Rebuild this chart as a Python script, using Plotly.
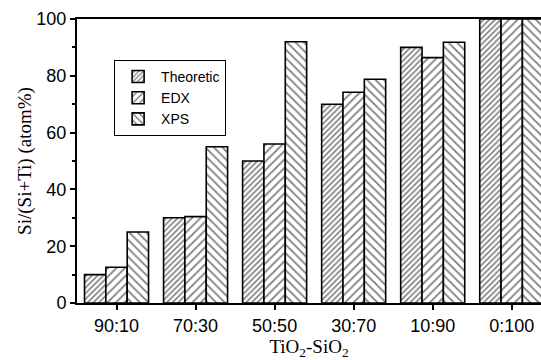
import plotly.graph_objects as go

categories = ["90:10", "70:30", "50:50", "30:70", "10:90", "0:100"]
theoretic = [10, 30, 50, 70, 90, 100]
edx = [12.6, 30.4, 56, 74.2, 86.4, 100]
xps = [25, 55, 92, 78.8, 91.8, 100]
y_ticks = [0, 20, 40, 60, 80, 100]

series = [
    ("Theoretic", theoretic, "/", 4, 0.4),
    ("EDX", edx, "/", 6, 0.3),
    ("XPS", xps, "\\", 6, 0.3),
]

fig = go.Figure()
for name, vals, shape, size, sol in series:
    fig.add_trace(go.Bar(
        name=name, x=categories, y=vals,
        marker=dict(
            color="white",
            line=dict(color="black", width=1.6),
            pattern=dict(shape=shape, size=size, solidity=sol,
                         fgcolor="black", bgcolor="white", fillmode="overlay"),
        ),
    ))

fig.update_layout(
    width=541, height=360,
    margin=dict(l=77, r=0, t=19, b=57),
    plot_bgcolor="white", paper_bgcolor="white",
    barmode="group", bargap=0.19, bargroupgap=0,
    font=dict(family="Liberation Sans, Arial", size=18, color="black"),
    showlegend=True,
    legend=dict(
        x=0.08, y=0.856, xanchor="left", yanchor="top",
        bordercolor="black", borderwidth=1, bgcolor="white",
        font=dict(size=14, family="Liberation Sans, Arial"),
        tracegroupgap=0, itemwidth=36,
    ),
    xaxis=dict(
        range=[-0.5, 5.37], automargin=False,
        showline=True, linecolor="black", linewidth=2, mirror=True,
        ticks="outside", ticklen=5, tickwidth=2, tickcolor="black",
        showgrid=False,
        title=dict(text="TiO<sub>2</sub>-SiO<sub>2</sub>",
                   font=dict(family="Liberation Serif, Times New Roman", size=19),
                   standoff=0),
        tickfont=dict(size=18),
    ),
    yaxis=dict(
        range=[0, 100], automargin=False,
        tickvals=y_ticks,
        showline=True, linecolor="black", linewidth=2,
        ticks="outside", ticklen=5, tickwidth=2, tickcolor="black",
        minor=dict(dtick=10, ticks="outside", ticklen=3, tickwidth=2, tickcolor="black"),
        showgrid=False, zeroline=False,
        title=dict(text="Si/(Si+Ti) (atom%)",
                   font=dict(family="Liberation Serif, Times New Roman", size=19),
                   standoff=0),
        tickfont=dict(size=18),
    ),
)

fig.write_html(
    "out.html",
    config={"displayModeBar": False},
    post_script="document.body.style.margin='0';document.body.style.overflow='hidden';",
)
